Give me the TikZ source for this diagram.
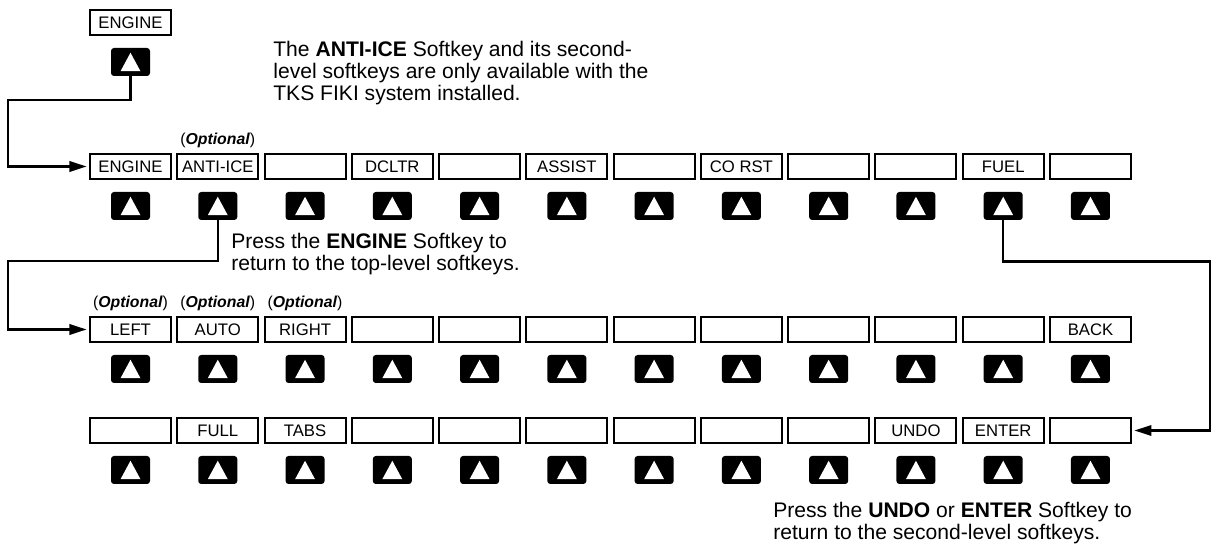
\documentclass[tikz,border=0pt]{standalone}
\usepackage{fontspec}
\setmainfont{Liberation Sans}
\usetikzlibrary{arrows.meta,positioning}

\begin{document}
\begin{tikzpicture}[
    every node/.style={font=\fontsize{9.5}{11}\selectfont},
    skey/.style={draw,line width=1.15pt,minimum width=1.62cm,minimum height=0.5cm,
                 inner sep=0pt},
    sbtn/.style={fill=black,rounded corners=0.06cm,minimum width=0.78cm,
                 minimum height=0.56cm,inner sep=0pt,
                 path picture={\fill[white,sharp corners]
                   ([shift={(-0.2,-0.185)}]path picture bounding box.center)
                   -- ++(0.4,0) -- ++(-0.2,0.37) -- cycle;}},
    opt/.style={inner sep=0pt,font=\fontsize{9}{11}\selectfont},
    note/.style={align=left,inner sep=0pt,anchor=north west,
                 font=\fontsize{12}{12.5}\selectfont},
    arr/.style={-{Triangle[length=0.34cm,width=0.21cm]},line width=1.15pt,
                shorten >=0.05cm},
  ]
  \useasboundingbox (0,0) rectangle (24.24,10.88);

  \node[skey] (top) at (2.61,10.43) {ENGINE};
  \node[sbtn] (topbtn) at (2.61,9.64) {};

  \node[note] (note1) at (5.46,10.06)
    {The \textbf{ANTI-ICE} Softkey and its second-\\level softkeys are only available with the\\TKS FIKI system installed.};

  % top-level softkeys
  \foreach \lab [count=\i from 0] in {ENGINE,ANTI-ICE,{},DCLTR,{},ASSIST,{},CO RST,{},{},FUEL,{}} {
    \node[skey] (sk1-\i) at ({2.61+1.7454*\i},7.55) {\lab};
    \node[sbtn] (bt1-\i) at ({2.61+1.7454*\i},6.76) {};
  }
  \node[opt,above=0.1cm of sk1-1] (opt1) {(\textbf{\textit{Optional}})};

  \node[note] (note2) at (4.62,6.22)
    {Press the \textbf{ENGINE} Softkey to\\return to the top-level softkeys.};

  % second-level softkeys
  \foreach \lab [count=\i from 0] in {LEFT,AUTO,RIGHT,{},{},{},{},{},{},{},{},BACK} {
    \node[skey] (sk2-\i) at ({2.61+1.7454*\i},4.29) {\lab};
    \node[sbtn] (bt2-\i) at ({2.61+1.7454*\i},3.50) {};
  }
  \node[opt,above=0.1cm of sk2-0] (opt2) {(\textbf{\textit{Optional}})};
  \node[opt,above=0.1cm of sk2-1] (opt3) {(\textbf{\textit{Optional}})};
  \node[opt,above=0.1cm of sk2-2] (opt4) {(\textbf{\textit{Optional}})};

  % fuel softkeys
  \foreach \lab [count=\i from 0] in {{},FULL,TABS,{},{},{},{},{},{},UNDO,ENTER,{}} {
    \node[skey] (sk3-\i) at ({2.61+1.7454*\i},2.27) {\lab};
    \node[sbtn] (bt3-\i) at ({2.61+1.7454*\i},1.48) {};
  }

  \node[note] (note3) at (15.46,0.85)
    {Press the \textbf{UNDO} or \textbf{ENTER} Softkey to\\return to the second-level softkeys.};

  \coordinate (turn1) at (0.16,8.88);
  \coordinate (turn2) at (0.16,5.66);
  \coordinate (turn3) at (24.2,5.65);
  \draw[arr] (topbtn.south) |- (turn1) |- (sk1-0.west);
  \draw[arr] (bt1-1.south) |- (turn2) |- (sk2-0.west);
  \draw[arr] (bt1-10.south) |- (turn3) |- (sk3-11.east);
\end{tikzpicture}
\end{document}
